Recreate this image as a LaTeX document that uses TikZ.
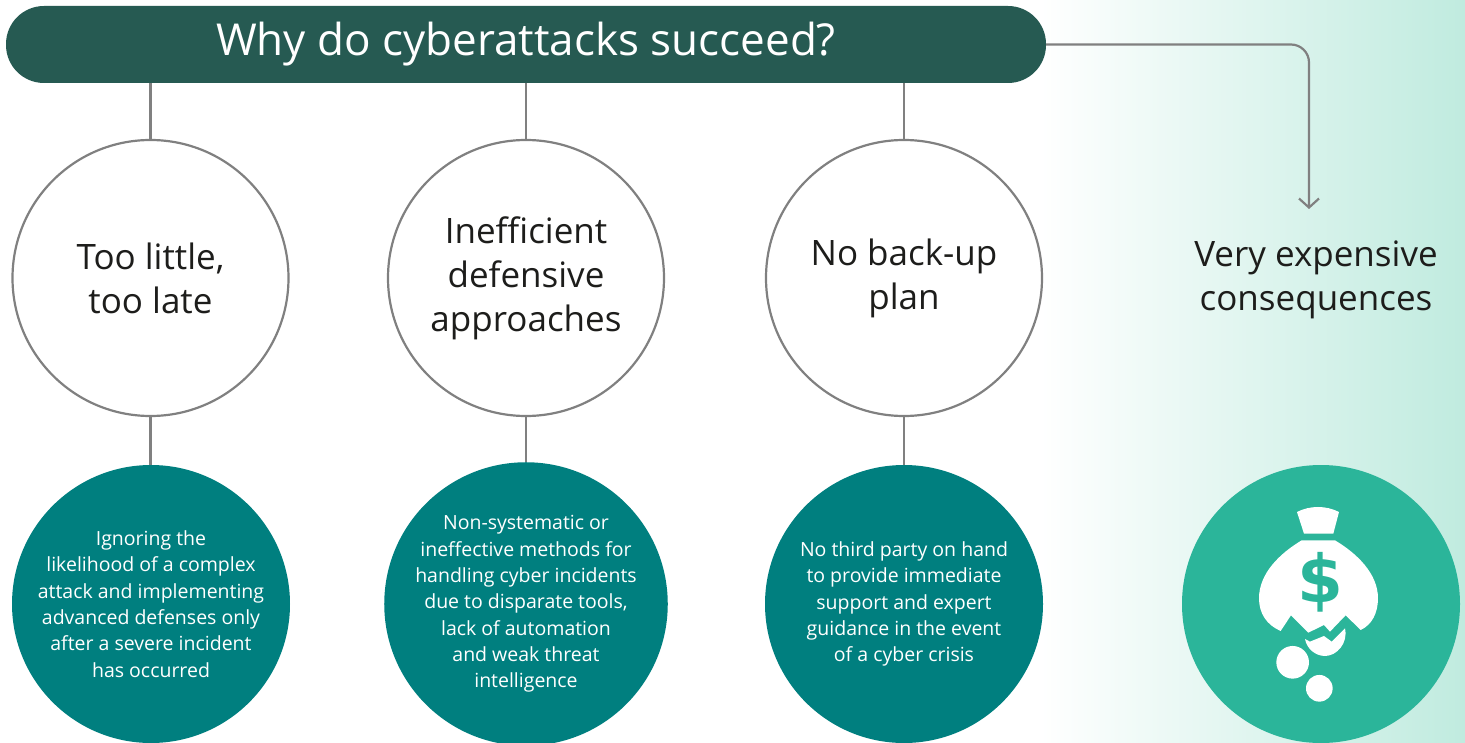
\documentclass[tikz,border=0pt]{standalone}
\usepackage{fontspec}
\setmainfont{Open Sans}
\newfontfamily\iconfont{DejaVu Sans}
\usepackage{xcolor}
\usetikzlibrary{arrows.meta}
\definecolor{bannerdark}{HTML}{265A52}
\definecolor{bubbleteal}{HTML}{007F7F}
\definecolor{bubblegreen}{HTML}{2BB59A}
\definecolor{linegray}{HTML}{808080}
\definecolor{inktext}{HTML}{1D1D1B}
\definecolor{washgreen}{HTML}{C0EBDF}
\tikzset{
    conn/.style={draw=linegray, line width=2.2pt},
    ringnode/.style={shape=circle, draw=linegray, line width=2.2pt, fill=white, minimum size=276pt, inner sep=0pt, align=center, text=inktext, font=\fontsize{35}{44}\selectfont},
    bubblenode/.style={shape=circle, fill=bubbleteal, minimum size=278pt, inner sep=0pt, align=center, text=white, font=\fontsize{19.5}{26.3}\selectfont},
    iconfill/.style={fill=white, draw=none}
}

\begin{document}
\begin{tikzpicture}[x=1pt, y=-1pt]

    \useasboundingbox (0,0) rectangle (1465,743);
    \shade[left color=white, right color=washgreen, draw=none] (1040,0) rectangle (1465,743);

    \node[shape=rectangle, fill=bannerdark, rounded corners=38pt, minimum width=1040pt, minimum height=77pt, inner sep=0pt, text=white, font=\fontsize{44}{52}\selectfont] (T) at (526,44.5) {Why do cyberattacks succeed?};

    \node[ringnode] (A) at (150.5,278) {Too little,\\too late};
    \node[ringnode] (B) at (526,278) {Inefficient\\defensive\\approaches};
    \node[ringnode] (C) at (904,278) {No back-up\\plan};

    \node[bubblenode] (D) at (151,604) {Ignoring the\\likelihood of a complex\\attack and implementing\\advanced defenses only\\after a severe incident\\has occurred};
    \node[bubblenode] (E) at (526,604) {Non-systematic or\\ineffective methods for\\handling cyber incidents\\due to disparate tools,\\lack of automation\\and weak threat\\intelligence};
    \node[bubblenode] (F) at (904,604) {No third party on hand\\to provide immediate\\support and expert\\guidance in the event\\of a cyber crisis};
    \node[bubblenode, fill=bubblegreen] (G) at (1321,604) {};

    \node[text=inktext, align=center, font=\fontsize{35}{44}\selectfont] (H) at (1316,280) {Very expensive\\consequences};
    \coordinate (tip) at (1309,209);

    \draw[conn] (A.north) -- (A.north |- T.south);
    \draw[conn] (B.north) -- (B.north |- T.south);
    \draw[conn] (C.north) -- (C.north |- T.south);
    \draw[conn] (A.south) -- (A.south |- D.north);
    \draw[conn] (B.south) -- (B.south |- E.north);
    \draw[conn] (C.south) -- (C.south |- F.north);
    \draw[conn, rounded corners=18pt, -{Straight Barb[length=9pt, width=20pt, line width=2.2pt]}] (T.east) -| (tip);

    \begin{scope}[shift={(1180,460)}, x=0.3333pt, y=-0.3333pt]
        \fill[iconfill] (351,156) .. controls (390,136) and (438,136) .. (477,156) -- (460,221) -- (372,221) -- cycle;
        \fill[iconfill] (365,241) -- (465,241) .. controls (530,280) and (594,340) .. (594,415) .. controls (594,460) and (575,495) .. (542,510) -- (497,466) -- (450,515) -- (432,495) -- (385,518) -- (333,466) -- (302,513) .. controls (260,495) and (237,460) .. (237,415) .. controls (237,340) and (300,280) .. (365,241) -- cycle;
        \fill[iconfill] (375,537) -- (390,545) -- (432,528) -- (455,545) -- (495,505) .. controls (505,550) and (470,588) .. (435,588) .. controls (405,588) and (380,565) .. (375,537) -- cycle;
        \fill[iconfill] (338,607) circle (49);
        \fill[iconfill] (418,685) circle (40);
    \end{scope}
    \node[text=bubblegreen, inner sep=0pt, font=\iconfont\bfseries\fontsize{66}{66}\selectfont] (S) at (1320.5,582) {\$};

\end{tikzpicture}
\end{document}
